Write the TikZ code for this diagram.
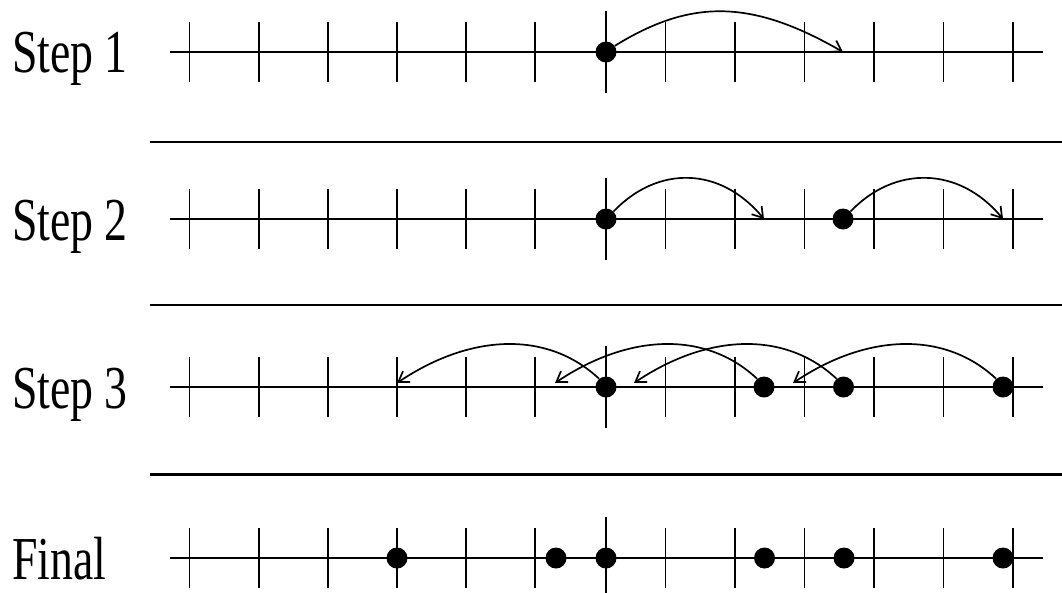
\documentclass[tikz,border=0pt]{standalone}
\usepackage{fontspec}
\setmainfont{Liberation Serif}
\usetikzlibrary{arrows.meta}
\begin{document}
\begin{tikzpicture}[x=1pt,y=-1pt,
  axisline/.style={line width=1.8pt},
  tickline/.style={line width=1.8pt},
  sepline/.style={line width=2.4pt},
  dotnode/.style={circle,fill=black,inner sep=0pt,minimum size=21pt},
  jumparc/.style={line width=1.7pt,-{Straight Barb[length=10pt,width=13pt]}},
  lbl/.style={anchor=base west,inner sep=0pt,font=\fontsize{61}{61}\selectfont}
]
\useasboundingbox (0,0) rectangle (1062,592);
% rows: axis, ticks
\foreach \r in {52,219,387,558}{
  \draw[axisline] (170,\r) -- (1043,\r);
  \foreach \x in {189.5,258.6,327.7,396.8,465.9,535,665.5,735,804.5,874,943.5,1013}
    \draw[tickline] (\x,\r-30) -- (\x,\r+30);
  \draw[tickline] (606,\r-41) -- (606,\r+41);
}
% separators
\foreach \s in {142,305,474.5}
  \draw[sepline] (150,\s) -- (1062,\s);
% labels
\node[lbl] (s1) at (12,72) {\scalebox{0.75}[1]{Step 1}};
\node[lbl] (s2) at (12,240) {\scalebox{0.75}[1]{Step 2}};
\node[lbl] (s3) at (12,408) {\scalebox{0.75}[1]{Step 3}};
\node[lbl] (s4) at (12,579) {\scalebox{0.75}[1]{Final}};
% dots
\node[dotnode] (d1a) at (606,52) {};
\node[dotnode] (d2a) at (606,219) {};
\node[dotnode] (d2b) at (843,219) {};
\node[dotnode] (d3a) at (606,387) {};
\node[dotnode] (d3b) at (764,387) {};
\node[dotnode] (d3c) at (843.5,387) {};
\node[dotnode] (d3d) at (1003,387) {};
\node[dotnode] (d4a) at (397,558) {};
\node[dotnode] (d4b) at (556,558) {};
\node[dotnode] (d4c) at (606,558) {};
\node[dotnode] (d4d) at (764.5,558) {};
\node[dotnode] (d4e) at (844,558) {};
\node[dotnode] (d4f) at (1003,558) {};
% arrow targets
\coordinate (e1a) at (843,52);
\coordinate (e2a) at (764,219);
\coordinate (e2b) at (1003,219);
\coordinate (e3a) at (397,383);
\coordinate (e3b) at (555,383);
\coordinate (e3c) at (634,383);
\coordinate (e3d) at (793,383);
% arcs
\draw[jumparc] (d1a.35) .. controls +(76,-47) and +(-92,-53) .. (e1a);
\draw[jumparc] (d2a.45) .. controls +(44,-46) and +(-44,-53) .. (e2a);
\draw[jumparc] (d2b.45) .. controls +(44,-46) and +(-44,-53) .. (e2b);
\draw[jumparc] (d3a.130) .. controls +(-50,-47) and +(76,-51) .. (e3a);
\draw[jumparc] (d3b.130) .. controls +(-50,-47) and +(76,-51) .. (e3b);
\draw[jumparc] (d3c.130) .. controls +(-50,-47) and +(76,-51) .. (e3c);
\draw[jumparc] (d3d.130) .. controls +(-50,-47) and +(76,-51) .. (e3d);
\end{tikzpicture}
\end{document}
